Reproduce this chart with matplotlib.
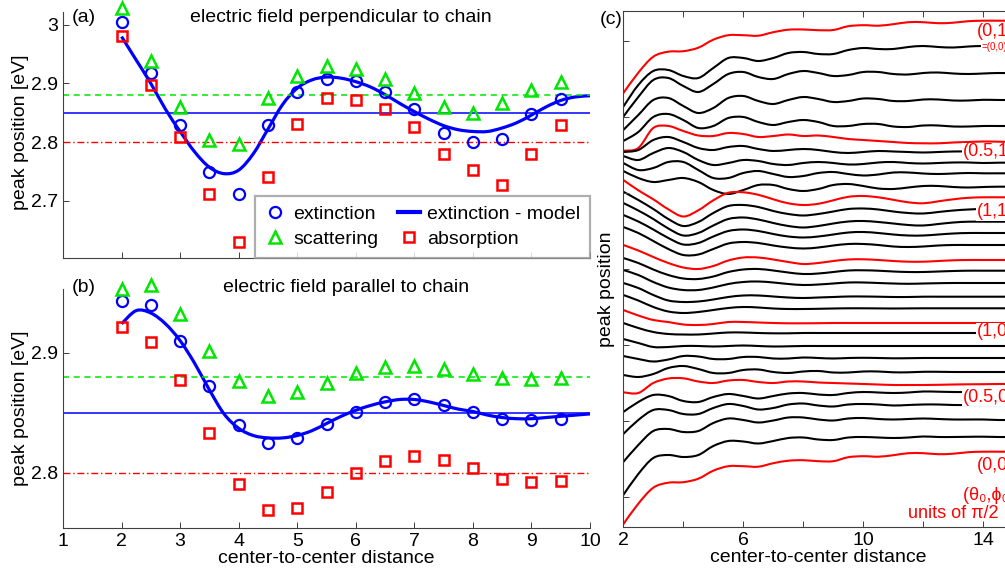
import numpy as np
import matplotlib
matplotlib.use("Agg")
import matplotlib.pyplot as plt
from matplotlib.path import Path
from matplotlib.patches import PathPatch
from matplotlib.lines import Line2D

plt.rcParams['font.family'] = ['Liberation Sans', 'DejaVu Sans']

# ---------------- data: panels (a) and (b) ----------------
dist = [2, 2.5, 3, 3.5, 4, 4.5, 5, 5.5, 6, 6.5, 7, 7.5, 8, 8.5, 9, 9.5]

a_ext = [3.005, 2.918, 2.829, 2.749, 2.712, 2.829, 2.885, 2.907, 2.904, 2.885,
         2.856, 2.815, 2.800, 2.806, 2.848, 2.873]
a_sca = [3.028, 2.939, 2.860, 2.803, 2.796, 2.876, 2.913, 2.930, 2.925, 2.908,
         2.884, 2.859, 2.850, 2.866, 2.888, 2.902]
a_abs = [2.981, 2.898, 2.809, 2.712, 2.630, 2.740, 2.831, 2.875, 2.872, 2.856,
         2.825, 2.779, 2.752, 2.726, 2.780, 2.829]

model_x = [2.0, 2.25, 2.5, 2.75, 3.0, 3.25, 3.5, 3.75, 4.0, 4.25, 4.5, 4.75, 5.0,
           5.25, 5.5, 5.75, 6.0, 6.25, 6.5, 6.75, 7.0, 7.25, 7.5, 7.75, 8.0,
           8.25, 8.5, 8.75, 9.0, 9.25, 9.5, 9.75, 10.0]
a_model = [2.980, 2.940, 2.900, 2.856, 2.818, 2.783, 2.757, 2.746, 2.752, 2.780,
           2.822, 2.864, 2.892, 2.906, 2.911, 2.909, 2.903, 2.894, 2.881, 2.866,
           2.852, 2.839, 2.828, 2.821, 2.818, 2.818, 2.824, 2.833, 2.846, 2.860,
           2.871, 2.877, 2.879]

b_ext = [2.943, 2.940, 2.910, 2.872, 2.840, 2.825, 2.829, 2.841, 2.851, 2.859,
         2.861, 2.856, 2.851, 2.845, 2.844, 2.845]
b_sca = [2.953, 2.956, 2.932, 2.901, 2.876, 2.864, 2.867, 2.875, 2.883, 2.888,
         2.889, 2.886, 2.882, 2.879, 2.878, 2.879]
b_abs = [2.921, 2.909, 2.877, 2.833, 2.791, 2.769, 2.771, 2.784, 2.800, 2.810,
         2.814, 2.811, 2.804, 2.795, 2.792, 2.793]
b_model = [2.924, 2.935, 2.933, 2.924, 2.910, 2.891, 2.869, 2.849, 2.837, 2.831,
           2.829, 2.829, 2.831, 2.835, 2.841, 2.847, 2.852, 2.856, 2.859, 2.861,
           2.861, 2.859, 2.856, 2.853, 2.851, 2.848, 2.846, 2.845, 2.845, 2.846,
           2.847, 2.848, 2.849]

ref_ext, ref_sca, ref_abs = 2.85, 2.88, 2.80

# ---------------- data: panel (c) (arbitrary units, increasing downward) ----
c_x = [2, 2.5, 3, 3.5, 4, 4.5, 5, 5.5, 6, 6.5, 7, 7.5, 8, 8.5, 9, 9.5, 10,
       10.5, 11, 11.5, 12, 12.5, 13, 13.5, 14, 14.5, 15]
c_curves = [
    [93.2, 72.7, 56.7, 51.7, 51.2, 47.7, 39.7, 35.2, 35.2, 35.7, 32.2, 29.7, 29.5, 30.2, 30.0, 26.2, 25.2, 25.7, 24.2, 22.2, 22.2, 23.2, 22.7, 21.2, 20.7, 20.7, 20.7],
    [106.7, 85, 71, 70, 76, 78, 68, 58, 58, 61, 58, 53, 52, 54, 54, 50, 48, 49, 49, 47, 46, 47, 47.5, 46.5, 46, 46.5, 46.7],
    [116.7, 97, 80, 78, 86, 92, 84, 74, 72, 77, 79, 74, 71, 73, 76, 75, 72, 72, 74, 74.5, 73, 72.5, 73.5, 74, 73.5, 73, 73.3],
    [130, 115, 100, 98, 106, 113, 108, 98, 96, 101, 104, 100, 97, 99, 102, 101, 98.5, 99, 101, 101, 99.5, 99.5, 100.5, 100.5, 99.8, 100, 100],
    [141, 132, 117, 114, 120, 128, 126, 118, 117, 122, 125, 122, 120, 122, 126, 126, 124, 124, 126.5, 127, 125.5, 125.5, 126.5, 126.5, 126, 126, 126],
    [150.7, 148, 128, 126, 131, 135.5, 136, 133, 134, 137, 136, 134.5, 136, 135.5, 137, 139, 140, 141, 142, 143, 143.3, 143.3, 142.5, 142, 141.5, 141.7, 142],
    [152, 150, 140, 137, 142, 148, 150, 147, 146, 149, 151, 150, 149, 150, 152, 153, 152, 151, 151.5, 152, 152.5, 152, 151.5, 151.5, 152, 151.7, 151.7],
    [156, 160, 153, 148, 152, 160, 165, 163, 160, 161, 164, 165, 163, 162, 163, 164.5, 164, 162.5, 162, 163, 163.5, 163, 162.5, 162.5, 163, 162.7, 162.7],
    [163, 170, 168, 162, 162, 170, 178, 178, 173, 171, 174, 177, 176, 173, 172, 174, 175.5, 174.5, 172.5, 172.5, 173.5, 174, 173.5, 173, 173.3, 173.3, 173.3],
    [171, 178, 182, 180, 178, 182, 190, 194, 190, 185, 185, 189, 191, 189, 185, 184, 186, 188.5, 189, 187.5, 186, 186, 187, 187.5, 187, 186.7, 186.7],
    [180, 190.3, 199.3, 209.3, 216.5, 210.3, 200.3, 192.8, 192.3, 194.8, 199.3, 203.3, 205, 203.8, 200.3, 196.8, 196, 197.3, 199.8, 202.3, 203.3, 201.3, 199.3, 197.8, 197.3, 197.3, 197.3],
    [191.7, 200, 209, 219, 226, 222, 213, 206, 205, 207, 211, 214, 215.5, 214, 211.5, 209, 208.5, 209.5, 211.5, 213, 213.5, 212, 210.5, 209.5, 209, 209, 209],
    [203, 210.5, 219, 228.5, 235.5, 233, 225.5, 219, 217.5, 219.5, 223, 226, 227.5, 226, 223.5, 221.5, 221, 222, 223.5, 225, 225.5, 224, 222.5, 221.7, 221.7, 221.7, 221.7],
    [215, 221.5, 229.5, 238, 244.5, 243, 236.5, 231, 229.5, 231, 234, 236.5, 237.5, 236.5, 234.5, 232.5, 232, 233, 234.5, 235.5, 235.5, 234.5, 233.5, 233, 233, 233, 233],
    [227, 233, 241, 249, 255, 254.5, 249, 243.5, 242, 243, 245.5, 247.5, 248.5, 247.5, 245.5, 244, 244, 245, 246.5, 247, 246.5, 245.5, 245, 245, 245, 245, 245],
    [245, 250.5, 257, 263, 267.5, 269, 266, 260.5, 257.5, 257.5, 259.5, 262, 264, 263, 261, 259.5, 259.3, 260, 261, 261.7, 261.7, 261, 260.3, 260, 260, 260, 260],
    [258, 263, 269.5, 275, 278.5, 279, 276.5, 272, 269.5, 269, 270.5, 272.5, 274, 273.5, 272, 270.5, 270.3, 270.7, 271.5, 272, 272, 271.5, 271, 270.7, 270.7, 270.7, 270.7],
    [270, 275, 282, 287.5, 290, 290, 287.5, 284, 282, 281.5, 282.5, 284, 285, 284.5, 283.5, 282.5, 282.5, 283, 283.5, 283.8, 283.5, 283.2, 283, 283, 283, 283, 283],
    [283, 288, 295, 300.5, 302, 301.5, 299.5, 297, 295.5, 295.5, 296.5, 297.5, 298, 297.5, 297, 296.5, 296.5, 296.7, 297, 297, 296.7, 296.7, 296.7, 296.7, 296.7, 296.7, 296.7],
    [295, 300.5, 307, 311.5, 313, 312, 310, 308, 307, 307.5, 308.5, 309, 309, 308.8, 308.5, 308.3, 308.3, 308.4, 308.5, 308.4, 308.3, 308.3, 308.3, 308.3, 308.3, 308.3, 308.3],
    [310, 315.5, 320, 322, 324.5, 325, 324, 322, 322, 322.5, 323, 323.3, 323.3, 323.2, 323, 323, 323, 323, 323, 323, 323, 323, 323, 323, 323, 323, 323],
    [323, 328, 332, 334, 334.5, 334.5, 333.5, 332.5, 332.5, 333, 333.3, 333.3, 333, 333, 333, 333, 333, 333, 333, 333, 333, 333, 333, 333, 333, 333, 333],
    [339, 343, 347, 347, 346, 346, 346.5, 346, 345.5, 346, 346.5, 346.3, 346, 346, 346, 346, 346, 346, 346, 346, 346, 346, 346, 346, 346, 346, 346],
    [356, 359, 361.5, 359.5, 356, 356.5, 359, 359, 357, 357, 358.5, 358.5, 357.5, 358, 358.5, 358, 357.8, 358, 358.3, 358.2, 358, 358, 358, 358, 358, 358, 358],
    [375, 377, 374, 368, 366, 369, 373, 373, 370, 369.5, 372, 373, 371.5, 371, 372.5, 372.5, 371.5, 371.5, 372.3, 372.3, 371.8, 371.8, 372, 372, 372, 372, 372],
    [392.3, 393, 383, 378.5, 378.3, 381.5, 383, 380.5, 380, 382, 383, 381.5, 381.5, 382.5, 383, 383.5, 384, 384.5, 385, 385, 385, 384.8, 384.5, 384.3, 384.2, 384, 384],
    [412, 402, 395, 396, 401, 402, 397, 394, 396, 398.5, 396, 393.5, 393, 394.5, 395, 393, 392, 392.5, 393, 392.5, 391.5, 391.7, 392, 392, 391.8, 392, 392],
    [434, 420, 410, 410, 414, 414, 408, 404, 406, 409.5, 408, 404.5, 403.5, 405.5, 406.5, 404.5, 404, 404.5, 405.5, 405, 404.5, 404.5, 405, 405, 405, 405, 405],
    [462, 445, 431, 429, 432, 431, 423, 418.5, 420, 422.5, 420.5, 417.5, 417.5, 419.5, 420.5, 418.5, 418, 419, 419.5, 419, 418.5, 419, 419.5, 419.5, 419.5, 420, 420],
    [495, 474, 458, 455, 457, 455, 446, 441, 441.5, 443.5, 441, 438, 437.5, 439.5, 440, 437.5, 437, 437.5, 438, 437.5, 436.5, 437, 437, 436.8, 436.7, 437, 437],
    [524.2, 503.7, 487.7, 482.7, 482.2, 478.7, 470.7, 466.2, 466.2, 466.7, 463.2, 460.7, 460.2, 461.2, 461.2, 457.2, 456.2, 456.7, 455.2, 453.2, 453.2, 454.2, 453.7, 452.2, 451.7, 451.7, 451.7],
]
c_red = [0, 5, 10, 15, 20, 25, 30]
c_labels = ["(0,1)", "(0.5,1)", "(1,1)", "(1,0)", "(0.5,0)", "(0,0)"]

# ---------------- figure ----------------
W, H = 1005, 571
fig = plt.figure(figsize=(W / 100, H / 100), dpi=100)


def ax_px(l, t, r, b):
    return fig.add_axes([l / W, 1 - b / H, (r - l) / W, (b - t) / H])


def ftext(x, y, s, **kw):
    return fig.text(x / W, 1 - y / H, s, **kw)


def smooth(ax, xs, ys, **kw):
    pts = np.column_stack([xs, ys]).astype(float)
    P = np.vstack([pts[0], pts, pts[-1]])
    verts = [pts[0]]
    codes = [Path.MOVETO]
    for i in range(1, len(P) - 2):
        p0, p1, p2, p3 = P[i - 1], P[i], P[i + 1], P[i + 2]
        verts += [p1 + (p2 - p0) / 6, p2 - (p3 - p1) / 6, p2]
        codes += [Path.CURVE4] * 3
    patch = PathPatch(Path(verts, codes), facecolor='none', **kw)
    ax.add_patch(patch)
    return patch


BLUE, GREEN, RED = '#0000ff', '#00e600', '#ff0000'
FS = 14

axA = ax_px(63, 12, 590, 258)
axB = ax_px(63, 289, 590, 528)

for ax, ext, sca, ab, mod, ylim in [
        (axA, a_ext, a_sca, a_abs, a_model, (2.602, 3.022)),
        (axB, b_ext, b_sca, b_abs, b_model, (2.754, 2.953))]:
    ax.set_xlim(1, 10)
    ax.set_ylim(*ylim)
    ax.axhline(ref_ext, color=BLUE, lw=1.1)
    ax.axhline(ref_sca, color=GREEN, lw=1.1, ls=(0, (4, 3)))
    ax.axhline(ref_abs, color=RED, lw=1.0, ls=(0, (5, 2, 1, 2)))
    smooth(ax, model_x, mod, edgecolor=BLUE, lw=2.3)
    ax.plot(dist, ext, 'o', mfc='none', mec=BLUE, mew=1.6, ms=8, clip_on=False)
    ax.plot(dist, sca, '^', mfc='none', mec=GREEN, mew=1.8, ms=9, clip_on=False)
    ax.plot(dist, ab, 's', mfc='none', mec=RED, mew=1.8, ms=7.5, clip_on=False)
    for s in ['top', 'right']:
        ax.spines[s].set_visible(False)
    for s in ['left', 'bottom']:
        ax.spines[s].set_color('#404040')
        ax.spines[s].set_linewidth(0.8)
    ax.set_xticks(range(1, 11))
    ax.tick_params(direction='in', length=4, width=0.7, colors='#404040',
                   labelcolor='black', labelsize=FS)
    ax.set_ylabel('peak position [eV]', fontsize=FS)

axA.set_yticks([2.7, 2.8, 2.9, 3.0])
axA.set_yticklabels(['2.7', '2.8', '2.9', '3'])
axA.set_xticklabels([])
axB.set_yticks([2.8, 2.9])
axB.set_yticklabels(['2.8', '2.9'])
axB.set_xlabel('center-to-center distance', fontsize=FS, labelpad=0)

axA.yaxis.set_label_coords(-0.064, 0.51)
axB.yaxis.set_label_coords(-0.064, 0.5)

handles = [
    Line2D([], [], ls='none', marker='o', mfc='none', mec=BLUE, mew=1.6, ms=8),
    Line2D([], [], ls='none', marker='^', mfc='none', mec=GREEN, mew=1.8, ms=9),
    Line2D([], [], color=BLUE, lw=3),
    Line2D([], [], ls='none', marker='s', mfc='none', mec=RED, mew=1.8, ms=7.5),
]
labels = ['extinction', 'scattering', 'extinction - model', 'absorption']
leg = axA.legend(handles, labels, ncol=2, loc='lower right',
                 bbox_to_anchor=(1.0, 0.0), borderaxespad=0.0, fontsize=FS,
                 frameon=True, fancybox=False, handlelength=1.15,
                 handletextpad=0.35, columnspacing=1.0, labelspacing=0.4,
                 borderpad=0.5)
leg.get_frame().set_edgecolor('#9a9a9a')
leg.get_frame().set_linewidth(1.6)

ftext(72, 18, '(a)', fontsize=FS, va='center', ha='left')
ftext(341, 17, 'electric field perpendicular to chain', fontsize=FS,
      va='center', ha='center')
ftext(72, 288, '(b)', fontsize=FS, va='center', ha='left')
ftext(346, 288, 'electric field parallel to chain', fontsize=FS,
      va='center', ha='center')

# ---------------- panel (c) ----------------
axC = ax_px(623.3, 10.7, 1013.3, 527)
axC.set_xlim(2, 15)
axC.set_ylim(527, 10.7)
for i, ys in enumerate(c_curves):
    col = RED if i in c_red else 'black'
    smooth(axC, c_x, ys, edgecolor=col, lw=1.5)
axC.set_xticks([2, 4, 6, 8, 10, 12, 14])
axC.set_xticklabels(['2', '', '6', '', '10', '', '14'])
axC.set_yticks([41, 117, 193, 269, 345, 421, 497])
axC.set_yticklabels([])
axC.tick_params(direction='in', length=4, width=0.7, colors='#404040',
                labelcolor='black', labelsize=FS, top=True)
for s in axC.spines.values():
    s.set_color('#404040')
    s.set_linewidth(0.8)
axC.set_xlabel('center-to-center distance', fontsize=FS, labelpad=0)
axC.set_ylabel('peak position', fontsize=FS)
axC.yaxis.set_label_coords(-0.021, 0.461)

ftext(600, 19, '(c)', fontsize=FS, va='center', ha='left')

LFS = 13
wbg = dict(facecolor='white', edgecolor='none', pad=0.5)
ftext(977, 32, c_labels[0], fontsize=LFS, color=RED, va='center', ha='left')
ftext(982, 47, '=' + c_labels[5], fontsize=7, color=RED, va='center',
      ha='left', bbox=wbg)
ftext(963, 152, c_labels[1], fontsize=LFS, color=RED, va='center', ha='left',
      bbox=wbg)
ftext(977, 212, c_labels[2], fontsize=LFS, color=RED, va='center', ha='left',
      bbox=wbg)
ftext(977, 332, c_labels[3], fontsize=LFS, color=RED, va='center', ha='left',
      bbox=wbg)
ftext(963, 397, c_labels[4], fontsize=LFS, color=RED, va='center', ha='left',
      bbox=wbg)
ftext(977, 465, c_labels[5], fontsize=LFS, color=RED, va='center', ha='left')
ftext(963, 495, '(θ₀,ϕ₀) in', fontsize=LFS, color=RED, va='center', ha='left')
ftext(908, 514, 'units of π/2', fontsize=LFS, color=RED, va='center',
      ha='left')

fig.savefig('out.png', dpi=100)
